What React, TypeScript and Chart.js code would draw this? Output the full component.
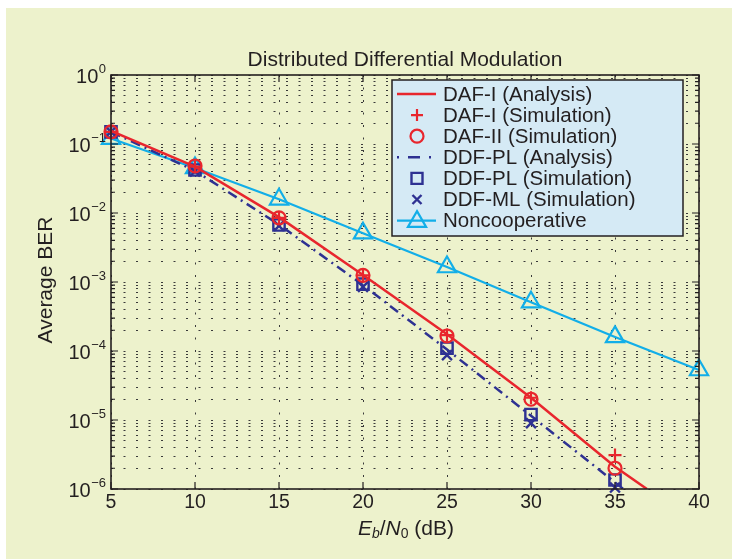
import React, { useEffect, useRef } from 'react';
import { Chart, registerables } from 'chart.js';

Chart.register(...registerables);

// ---- data ----
const snrX = [5, 10, 15, 20, 25, 30, 35];
const nonCoopX = [5, 10, 15, 20, 25, 30, 35, 40];
const dafIAnalysisX = [5, 10, 15, 20, 25, 30, 35, 36.9];
const dafIAnalysis = [0.155, 0.047, 0.0087, 0.00126, 1.75e-4, 2.1e-5, 2.1e-6, 1e-6];
const dafISim = [0.15, 0.047, 0.0085, 0.00125, 1.7e-4, 2.1e-5, 3.1e-6];
const dafIISim = [0.15, 0.048, 0.0085, 0.00125, 1.65e-4, 2.0e-5, 2.0e-6];
const ddfPLAnalysisX = [5, 10, 15, 20, 25, 30, 35, 35.5];
const ddfPLAnalysis = [0.15, 0.041, 0.0068, 9.0e-4, 1.05e-4, 1.15e-5, 1.25e-6, 1e-6];
const ddfPLSim = [0.15, 0.042, 0.0067, 9.3e-4, 1.1e-4, 1.2e-5, 1.35e-6];
const ddfMLSim = [0.15, 0.04, 0.0065, 8.5e-4, 8.7e-5, 9.0e-6, 1.05e-6];
const nonCoop = [0.12, 0.045, 0.0158, 0.0051, 0.00165, 5.1e-4, 1.6e-4, 5.3e-5];

const xTickValues = [5, 10, 15, 20, 25, 30, 35, 40];
const yTickExponents = [0, -1, -2, -3, -4, -5, -6];

const titleText = 'Distributed Differential Modulation';
const yLabelText = 'Average BER';

const RED = '#e8262d';
const BLUE = '#2e3192';
const CYAN = '#12aee8';
const INK = '#231f20';
const PANEL = '#edf2cc';
const LEGEND_BG = '#d5eaf5';
const FONT = '"Liberation Sans", Arial, Helvetica, sans-serif';

const pts = (xs: number[], ys: number[]) => xs.map((x, i) => ({ x, y: ys[i] }));

function drawMarker(ctx: CanvasRenderingContext2D, style: string, x: number, y: number, r: number) {
  ctx.beginPath();
  if (style === 'cross') {
    ctx.moveTo(x - r, y); ctx.lineTo(x + r, y);
    ctx.moveTo(x, y - r); ctx.lineTo(x, y + r);
  } else if (style === 'circle') {
    ctx.arc(x, y, r, 0, Math.PI * 2);
  } else if (style === 'rect') {
    ctx.rect(x - r, y - r, 2 * r, 2 * r);
  } else if (style === 'crossRot') {
    ctx.moveTo(x - r, y - r); ctx.lineTo(x + r, y + r);
    ctx.moveTo(x + r, y - r); ctx.lineTo(x - r, y + r);
  } else if (style === 'triangle') {
    ctx.moveTo(x, y - r);
    ctx.lineTo(x + r * 0.866, y + r * 0.5);
    ctx.lineTo(x - r * 0.866, y + r * 0.5);
    ctx.closePath();
  }
  ctx.stroke();
}

const decorPlugin = {
  id: 'decor',
  afterDraw(chart: any) {
    const ctx: CanvasRenderingContext2D = chart.ctx;
    const { left, right, top, bottom } = chart.chartArea;
    const xs = chart.scales.x;
    const ys = chart.scales.y;
    ctx.save();

    // axes box
    ctx.strokeStyle = INK;
    ctx.lineWidth = 1.6;
    ctx.setLineDash([]);
    ctx.strokeRect(left, top, right - left, bottom - top);

    // inward ticks
    ctx.lineWidth = 1.2;
    ctx.beginPath();
    xTickValues.forEach((v) => {
      const px = xs.getPixelForValue(v);
      ctx.moveTo(px, bottom); ctx.lineTo(px, bottom - 7);
      ctx.moveTo(px, top); ctx.lineTo(px, top + 7);
    });
    yTickExponents.forEach((e) => {
      for (let m = 1; m <= 9; m++) {
        const v = m * Math.pow(10, e);
        if (v > 1.0000001) break;
        const py = ys.getPixelForValue(v);
        const len = m === 1 ? 7 : 4;
        ctx.moveTo(left, py); ctx.lineTo(left + len, py);
        ctx.moveTo(right, py); ctx.lineTo(right - len, py);
      }
    });
    ctx.stroke();

    // y tick labels 10^e
    ctx.fillStyle = INK;
    ctx.textBaseline = 'middle';
    yTickExponents.forEach((e) => {
      const py = ys.getPixelForValue(Math.pow(10, e));
      const exp = e === 0 ? '0' : '\u2212' + Math.abs(e);
      ctx.font = `13px ${FONT}`;
      const ew = ctx.measureText(exp).width;
      const xr = left - 5;
      ctx.textAlign = 'left';
      ctx.fillText(exp, xr - ew, py - 6);
      ctx.font = `20px ${FONT}`;
      ctx.textAlign = 'right';
      ctx.fillText('10', xr - ew - 0.5, py + 2.5);
    });

    // title
    ctx.font = `21px ${FONT}`;
    ctx.textAlign = 'center';
    ctx.fillText(titleText, (left + right) / 2, top - 15);

    // y axis label
    ctx.save();
    ctx.translate(40, 272);
    ctx.rotate(-Math.PI / 2);
    ctx.font = `21px ${FONT}`;
    ctx.textAlign = 'center';
    ctx.fillText(yLabelText, 0, 0);
    ctx.restore();

    // x axis label: E_b/N_0 (dB)
    const parts: [string, string, number][] = [
      ['E', `italic 21px ${FONT}`, 0],
      ['b', `italic 14px ${FONT}`, 5],
      ['/', `21px ${FONT}`, 0],
      ['N', `italic 21px ${FONT}`, 0],
      ['0', `14px ${FONT}`, 5],
      [' (dB)', `21px ${FONT}`, 0],
    ];
    let total = 0;
    parts.forEach(([t, f]) => { ctx.font = f; total += ctx.measureText(t).width; });
    let cx = 400 - total / 2;
    ctx.textAlign = 'left';
    const ly = 521;
    parts.forEach(([t, f, dy]) => {
      ctx.font = f;
      ctx.fillText(t, cx, ly + dy);
      cx += ctx.measureText(t).width;
    });

    // legend
    const lx0 = 386, ly0 = 72, lx1 = 677, ly1 = 228;
    ctx.fillStyle = LEGEND_BG;
    ctx.fillRect(lx0, ly0, lx1 - lx0, ly1 - ly0);
    ctx.strokeStyle = INK;
    ctx.lineWidth = 1.5;
    ctx.strokeRect(lx0, ly0, lx1 - lx0, ly1 - ly0);
    chart.data.datasets.forEach((ds: any, i: number) => {
      const cy = 86 + i * 21.1;
      const sx0 = 391, sx1 = 430, scx = 411;
      ctx.strokeStyle = ds.borderColor;
      if (ds.showLine) {
        ctx.lineWidth = ds.borderWidth;
        if (ds.borderDash && ds.borderDash.length) {
          ctx.setLineDash([2, 9, 12, 9, 2, 100]);
        } else {
          ctx.setLineDash([]);
        }
        ctx.beginPath();
        ctx.moveTo(sx0, cy); ctx.lineTo(sx1, cy);
        ctx.stroke();
        ctx.setLineDash([]);
      }
      if (ds.pointRadius > 0) {
        ctx.lineWidth = ds.pointBorderWidth || 2;
        const style = ds.pointStyle;
        const r = style === 'triangle' ? 10.5 : style === 'cross' ? 6 : style === 'crossRot' ? 4.5 : style === 'rect' ? 5.5 : 6.5;
        drawMarker(ctx, style, scx, style === 'triangle' ? cy + 1 : cy, r);
      }
      ctx.fillStyle = INK;
      ctx.font = `20.5px ${FONT}`;
      ctx.textAlign = 'left';
      ctx.textBaseline = 'middle';
      ctx.fillText(ds.label, 437, cy + 1);
    });

    ctx.restore();
  },
};

export default function App() {
  const canvasRef = useRef<HTMLCanvasElement | null>(null);

  useEffect(() => {
    if (!canvasRef.current) return;
    const markerBase = { showLine: false, pointBackgroundColor: 'rgba(0,0,0,0)', clip: false as any };
    const chart = new Chart(canvasRef.current, {
      type: 'scatter',
      data: {
        datasets: [
          {
            label: 'DAF-I (Analysis)',
            data: pts(dafIAnalysisX, dafIAnalysis),
            showLine: true,
            borderColor: RED,
            borderWidth: 2.5,
            pointRadius: 0,
          },
          {
            label: 'DAF-I (Simulation)',
            data: pts(snrX, dafISim),
            ...markerBase,
            borderColor: RED,
            pointBorderColor: RED,
            pointStyle: 'cross',
            pointRadius: 6.5,
            pointBorderWidth: 2.2,
          },
          {
            label: 'DAF-II (Simulation)',
            data: pts(snrX, dafIISim),
            ...markerBase,
            borderColor: RED,
            pointBorderColor: RED,
            pointStyle: 'circle',
            pointRadius: 6.5,
            pointBorderWidth: 2.2,
          },
          {
            label: 'DDF-PL (Analysis)',
            data: pts(ddfPLAnalysisX, ddfPLAnalysis),
            showLine: true,
            borderColor: BLUE,
            borderWidth: 2.5,
            borderDash: [10, 5, 2, 5],
            pointRadius: 0,
          },
          {
            label: 'DDF-PL (Simulation)',
            data: pts(snrX, ddfPLSim),
            ...markerBase,
            borderColor: BLUE,
            pointBorderColor: BLUE,
            pointStyle: 'rect',
            pointRadius: 8,
            pointBorderWidth: 2.4,
          },
          {
            label: 'DDF-ML (Simulation)',
            data: pts(snrX, ddfMLSim),
            ...markerBase,
            borderColor: BLUE,
            pointBorderColor: BLUE,
            pointStyle: 'crossRot',
            pointRadius: 7,
            pointBorderWidth: 2.4,
          },
          {
            label: 'Noncooperative',
            data: pts(nonCoopX, nonCoop),
            showLine: true,
            borderColor: CYAN,
            borderWidth: 2.2,
            pointBorderColor: CYAN,
            pointBackgroundColor: 'rgba(0,0,0,0)',
            pointStyle: 'triangle',
            pointRadius: 10.5,
            pointBorderWidth: 2.2,
            clip: false as any,
          },
        ] as any,
      },
      options: {
        animation: false,
        responsive: true,
        maintainAspectRatio: false,
        layout: { padding: { top: 67, right: 33, left: 0, bottom: 0 } },
        plugins: {
          legend: { display: false },
          tooltip: { enabled: false },
          title: { display: false },
        },
        scales: {
          x: {
            type: 'linear',
            min: 5,
            max: 40,
            ticks: {
              stepSize: 5,
              color: INK,
              font: { size: 19.5, family: FONT },
              padding: 2,
            },
            grid: { color: '#3a3a3a', lineWidth: 1, drawTicks: false },
            border: { display: false, dash: [2, 10.5] },
            afterFit: (s: any) => { s.height = 70; },
          },
          y: {
            type: 'logarithmic',
            min: 1e-6,
            max: 1,
            ticks: { display: false },
            grid: { color: '#3a3a3a', lineWidth: 1, drawTicks: false },
            border: { display: false, dash: [2, 10.5] },
            afterBuildTicks: (s: any) => {
              const t: { value: number }[] = [];
              yTickExponents.slice().reverse().forEach((e) => {
                for (let m = 1; m <= 9; m++) {
                  const v = m * Math.pow(10, e);
                  if (v <= 1.0000001) t.push({ value: v });
                }
              });
              s.ticks = t;
            },
            afterFit: (s: any) => { s.width = 105; },
          },
        },
      } as any,
      plugins: [decorPlugin],
    });
    return () => chart.destroy();
  }, []);

  return (
    <div
      style={{
        position: 'absolute',
        left: 6,
        top: 8,
        width: 726,
        height: 551,
        background: PANEL,
      }}
    >
      <canvas ref={canvasRef} />
    </div>
  );
}
